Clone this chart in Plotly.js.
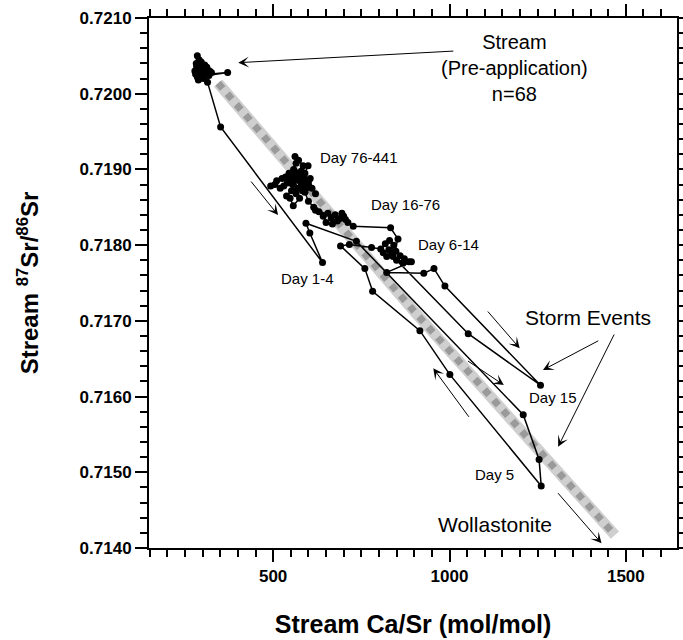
<!DOCTYPE html>
<html>
<head>
<meta charset="utf-8">
<script src="https://cdn.plot.ly/plotly-3.0.1.min.js"></script>
<style>html,body{margin:0;padding:0;background:#fff;}#chart{width:683px;height:640px;}</style>
</head>
<body>
<div id="chart"></div>
<script>
// Pre-application stream samples (n=68 shown as a dense cluster)
var preX = [285, 290, 282, 295, 300, 288, 278, 292, 305, 310, 298, 371, 285, 302, 315, 320, 290, 296, 308, 280, 300, 312, 288, 325, 294, 283, 306, 299, 318, 286, 303];
var preY = [0.72050, 0.72045, 0.72040, 0.72038, 0.72035, 0.72033, 0.72030, 0.72028, 0.72030, 0.72032, 0.72025, 0.72028, 0.72022, 0.72020, 0.72027, 0.72030, 0.72035, 0.72042, 0.72024, 0.72026, 0.72030, 0.72035, 0.72018, 0.72028, 0.72032, 0.72036, 0.72038, 0.72022, 0.72024, 0.72027, 0.72034];

// Days 1-5 storm and recovery
var earlyX = [314, 351, 640, 604, 593, 736, 1209, 1254, 1260, 1001, 916, 782, 760, 691, 716, 779];
var earlyY = [0.72015, 0.71956, 0.71777, 0.71816, 0.71829, 0.71805, 0.71576, 0.71517, 0.71482, 0.71629, 0.71687, 0.71739, 0.71769, 0.71799, 0.71801, 0.71797];

// Days 6-14 cluster and Day 15 storm
var d614X = [805, 818, 830, 842, 836, 822, 812, 828, 848, 860, 872, 885, 868, 850, 892, 822, 927, 956, 987, 1258, 1053, 840, 854, 833];
var d614Y = [0.71795, 0.71802, 0.71806, 0.71800, 0.71790, 0.71785, 0.71790, 0.71794, 0.71792, 0.71786, 0.71782, 0.71778, 0.71776, 0.71780, 0.71778, 0.71764, 0.71763, 0.71769, 0.71746, 0.71615, 0.71683, 0.71785, 0.71808, 0.71823];

// Days 16-76 cluster
var d1676X = [727, 712, 700, 688, 676, 665, 655, 642, 650, 668, 682, 695, 705, 630, 620];
var d1676Y = [0.71825, 0.71830, 0.71838, 0.71835, 0.71840, 0.71836, 0.71842, 0.71838, 0.71830, 0.71828, 0.71832, 0.71842, 0.71834, 0.71844, 0.71846];

// Days 76-441 cluster
var lateX = [615, 600, 590, 580, 570, 560, 550, 540, 530, 520, 505, 493, 510, 525, 545, 558, 565, 562, 572, 585, 599, 590, 578, 568, 555, 565, 575, 557, 548, 538, 552, 583, 595, 605, 610, 620, 600, 588, 575, 562, 548, 535, 560, 580, 593];
var lateY = [0.71850, 0.71858, 0.71870, 0.71880, 0.71875, 0.71885, 0.71890, 0.71882, 0.71878, 0.71875, 0.71880, 0.71878, 0.71885, 0.71888, 0.71895, 0.71900, 0.71908, 0.71917, 0.71912, 0.71905, 0.71905, 0.71895, 0.71892, 0.71895, 0.71880, 0.71868, 0.71862, 0.71852, 0.71862, 0.71865, 0.71872, 0.71872, 0.71880, 0.71888, 0.71875, 0.71868, 0.71885, 0.71888, 0.71885, 0.71890, 0.71885, 0.71890, 0.71898, 0.71898, 0.71875];

// Wollastonite mixing band
var bandX = [344, 897, 1469];
var bandY = [0.72014, 0.71714, 0.71417];

// Direction arrows: [tailX, tailY, tipX, tipY]
var arrows = [
  [1015, 0.720564, 401, 0.720410],
  [434, 0.718860, 514, 0.718397],
  [1105, 0.717143, 1199, 0.716638],
  [1048, 0.716483, 1154, 0.716153],
  [1058, 0.715713, 954, 0.716373],
  [1304, 0.714744, 1431, 0.714062],
  [1426, 0.716747, 1265, 0.716351],
  [1469, 0.716840, 1308, 0.715338]
];

// Text labels: [text, x, y, size]
var labels = [
  ['Stream<br>(Pre-application)<br>n=68', 1185, 0.720340, 20],
  ['Day 76-441', 743, 0.719158, 15],
  ['Day 16-76', 874, 0.718543, 15],
  ['Day 6-14', 996, 0.718015, 15],
  ['Day 1-4', 598, 0.717553, 15],
  ['Day 15', 1294, 0.715988, 15],
  ['Day 5', 1127, 0.714977, 15],
  ['Storm Events', 1394, 0.717038, 21],
  ['Wollastonite', 1129, 0.714304, 21]
];

var allX = preX.concat(earlyX, d614X, d1676X, lateX);
var allY = preY.concat(earlyY, d614Y, d1676Y, lateY);

var traces = [
  {x: bandX, y: bandY, mode: 'lines', line: {color: '#cfcfcf', width: 11}, hoverinfo: 'skip', showlegend: false},
  {x: bandX, y: bandY, mode: 'lines', line: {color: '#9a9a9a', width: 7, dash: 'dot'}, hoverinfo: 'skip', showlegend: false},
  {x: allX, y: allY, mode: 'lines+markers', line: {color: '#000', width: 1.5},
   marker: {color: '#000', size: 7}, showlegend: false}
];

var ann = [];
arrows.forEach(function (a) {
  ann.push({x: a[2], y: a[3], ax: a[0], ay: a[1], xref: 'x', yref: 'y', axref: 'x', ayref: 'y',
    text: '', showarrow: true, arrowhead: 3, arrowsize: 1.8, arrowwidth: 1, arrowcolor: '#000', standoff: 0});
});
labels.forEach(function (l) {
  ann.push({x: l[1], y: l[2], xref: 'x', yref: 'y', text: l[0], showarrow: false,
    font: {family: 'Liberation Sans, Arial, sans-serif', size: l[3], color: '#000'}, xanchor: 'center', yanchor: 'middle'});
});

var layout = {
  width: 683, height: 640,
  margin: {l: 149, r: 6, t: 18, b: 92},
  paper_bgcolor: '#fff', plot_bgcolor: '#fff',
  font: {family: 'Liberation Sans, Arial, sans-serif', color: '#000'},
  xaxis: {
    range: [148, 1645], showgrid: false, zeroline: false,
    showline: true, linecolor: '#000', linewidth: 2, mirror: 'allticks',
    ticks: 'outside', ticklen: 12, tickwidth: 2, tickcolor: '#000',
    tick0: 0, dtick: 500,
    minor: {dtick: 50, ticks: 'outside', ticklen: 7, tickwidth: 2, tickcolor: '#000'},
    tickfont: {size: 17, family: 'Liberation Sans, Arial, sans-serif', weight: 'bold'},
    title: {text: '<b>Stream Ca/Sr (mol/mol)</b>', font: {size: 25}, standoff: 30}
  },
  yaxis: {
    range: [0.7140, 0.7210], showgrid: false, zeroline: false,
    showline: true, linecolor: '#000', linewidth: 2, mirror: 'allticks',
    ticks: 'outside', ticklen: 12, tickwidth: 2, tickcolor: '#000',
    tick0: 0.714, dtick: 0.001, tickformat: '.4f',
    minor: {dtick: 0.0002, ticks: 'outside', ticklen: 7, tickwidth: 2, tickcolor: '#000'},
    tickfont: {size: 17, family: 'Liberation Sans, Arial, sans-serif', weight: 'bold'},
    title: {text: '<b>Stream <sup>87</sup>Sr/<sup>86</sup>Sr</b>', font: {size: 24}, standoff: 34}
  },
  annotations: ann
};

Plotly.newPlot('chart', traces, layout, {staticPlot: true});
</script>
</body>
</html>
